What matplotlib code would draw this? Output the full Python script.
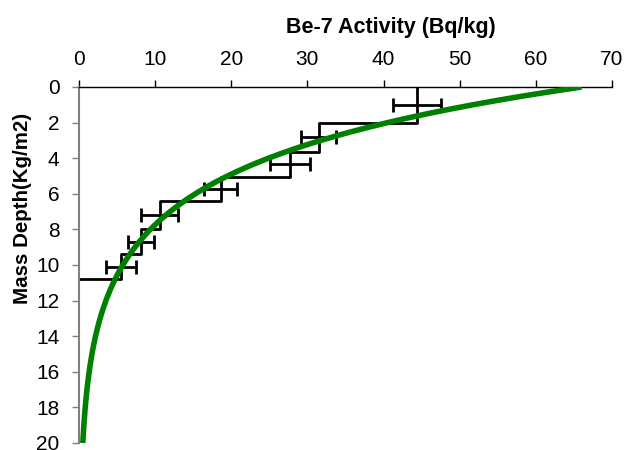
import numpy as np
import matplotlib
matplotlib.use("Agg")
import matplotlib.pyplot as plt

plt.rcParams['font.family'] = ['Liberation Sans', 'DejaVu Sans']

# Layer boundaries (mass depth, kg/m2) and Be-7 activity per layer
layer_bounds = [0.0, 2.04, 3.63, 5.04, 6.40, 8.00, 9.38, 10.79]
activity = [44.4, 31.5, 27.7, 18.6, 10.6, 8.2, 5.5]
activity_err = [3.2, 2.3, 2.6, 2.2, 2.4, 1.7, 2.0]

# Exponential fit parameters: A(h) = A0 * exp(-h / h0)
fit_A0 = 66.0
fit_h0 = 4.1

x_ticks = [0, 10, 20, 30, 40, 50, 60, 70]
y_ticks = [0, 2, 4, 6, 8, 10, 12, 14, 16, 18, 20]

fig = plt.figure(figsize=(6.25, 4.5), dpi=100)
ax = fig.add_axes([79/625, 7/450, (612-79)/625, (443-87)/450])

# step profile
sx, sy = [], []
for i, a in enumerate(activity):
    sx += [a, a]
    sy += [layer_bounds[i], layer_bounds[i+1]]
sx.append(0.0)
sy.append(layer_bounds[-1])
ax.plot(sx, sy, color='black', lw=2, zorder=2)

mids = [(layer_bounds[i] + layer_bounds[i+1]) / 2 for i in range(len(activity))]
ax.errorbar(activity, mids, xerr=activity_err, fmt='none', ecolor='black',
            elinewidth=2, capsize=5, capthick=2, zorder=2)

h = np.linspace(0, 20, 400)
ax.plot(fit_A0 * np.exp(-h / fit_h0), h, color='#008000', lw=4, zorder=3,
        solid_capstyle='butt')

ax.set_xlim(0, 70)
ax.set_ylim(20, 0)
ax.set_xticks(x_ticks)
ax.set_yticks(y_ticks)
ax.xaxis.tick_top()
ax.xaxis.set_label_position('top')
ax.tick_params(axis='x', direction='out', length=5, width=1, labelsize=15, pad=8, colors='black')
ax.tick_params(axis='y', direction='out', length=5, width=1, labelsize=15, pad=9,
               color='#808080', labelcolor='black')
for s in ['bottom', 'right']:
    ax.spines[s].set_visible(False)
ax.spines['top'].set_color('black')
ax.spines['top'].set_linewidth(1)
ax.spines['left'].set_color('#808080')
ax.spines['left'].set_linewidth(1.5)

fig.text(391/625, 1 - 27/450, 'Be-7 Activity (Bq/kg)', ha='center', va='center',
         fontsize=15.5, fontweight='bold')
fig.text(23/625, 1 - 208/450, 'Mass Depth(Kg/m2)', ha='center', va='center',
         rotation=90, fontsize=14.8, fontweight='bold')

fig.savefig('out.png', dpi=100)
